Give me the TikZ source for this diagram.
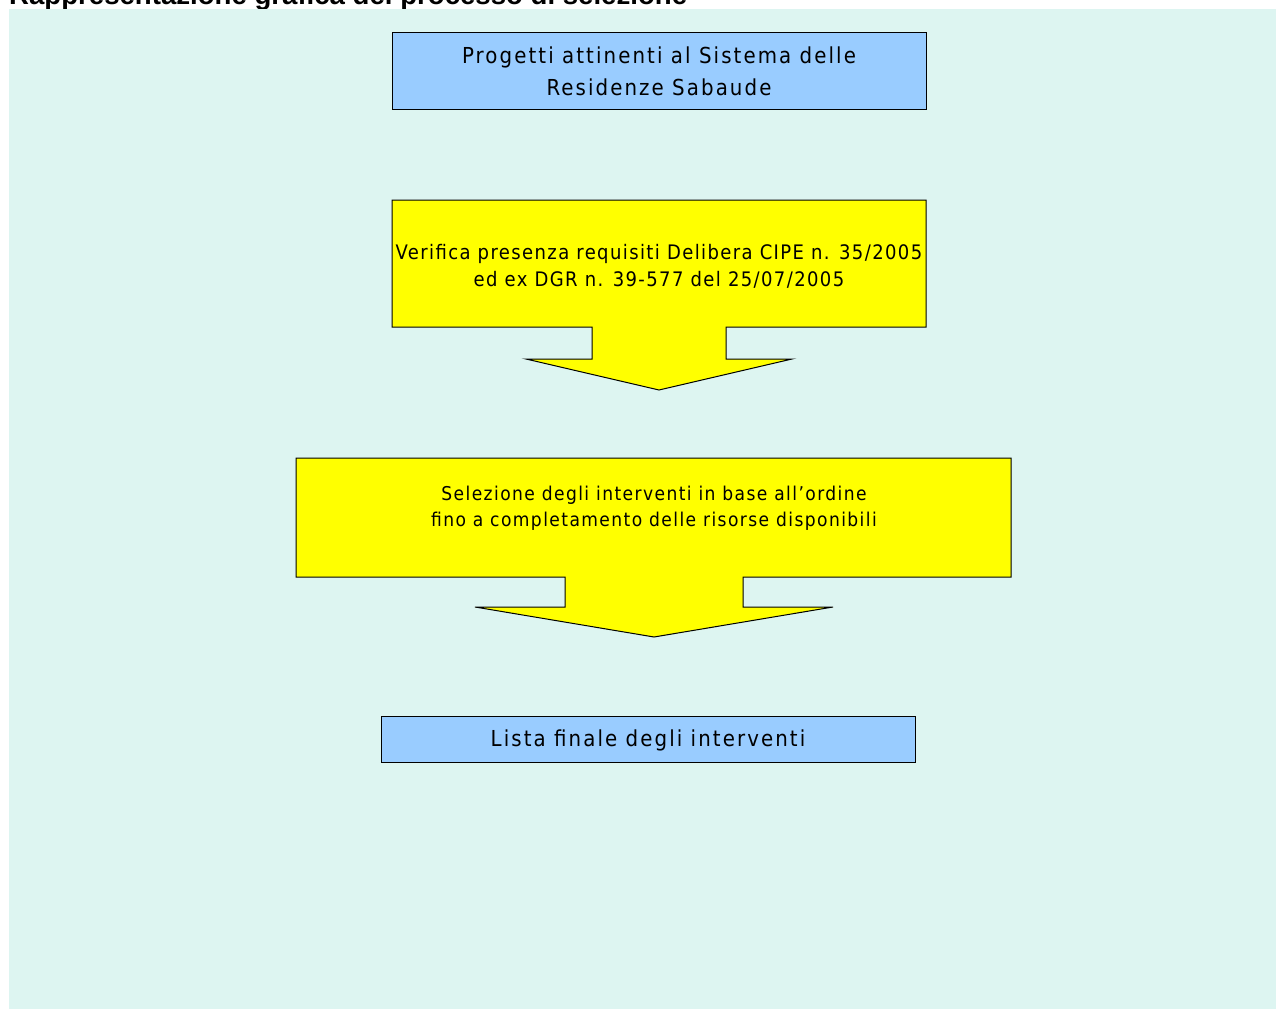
\documentclass[tikz,border=0pt]{standalone}
\usepackage{fontspec}
\setmainfont{Liberation Sans}
\newfontfamily\boxfont[LetterSpace=9.5]{DejaVu Sans Condensed}
\newfontfamily\callAfont[LetterSpace=7]{DejaVu Sans Condensed}
\newfontfamily\callBfont[LetterSpace=7.5]{DejaVu Sans Condensed}
\definecolor{bgc}{RGB}{221,245,241}
\definecolor{boxblue}{RGB}{153,204,255}
\definecolor{callyellow}{RGB}{255,255,0}
\tikzset{
  bluebox/.style={draw=black, fill=boxblue, line width=1pt, inner sep=0pt,
    minimum width=534pt},
  boxtext/.style={inner sep=0pt, align=center, font={\boxfont\fontsize{22}{32}\selectfont}},
  callout/.style={draw=black, fill=callyellow, line width=1pt, line join=miter},
  calltextA/.style={inner sep=0pt, align=center, font={\callAfont\fontsize{20}{27}\selectfont}},
  calltextB/.style={inner sep=0pt, align=center, font={\callBfont\fontsize{19}{26}\selectfont}},
}
\begin{document}
\begin{tikzpicture}[x=1pt,y=-1pt]
\useasboundingbox (0,0) rectangle (1276,1009);
\clip (0,0) rectangle (1276,1009);
\fill[white] (0,0) rectangle (1276,1009);
\node[anchor=base west, inner sep=0pt, font={\fontsize{27.6}{30}\selectfont\bfseries}] (title) at (9,4.5) {Rappresentazione grafica del processo di selezione};
\fill[bgc] (9,9) rectangle (1276,1009);

% top box
\node[bluebox, minimum height=77pt] (b1) at (659,70.5) {};
\node[boxtext] (b1t) at (659,71.5) {Progetti attinenti al Sistema delle\\Residenze Sabaude};

% callout 1
\draw[callout] (392,200) -- (926,200) -- (926,327) -- (726,327) -- (726,359) -- (792,359)
  -- (659,390) -- (526,359) -- (592,359) -- (592,327) -- (392,327) -- cycle;
\node[calltextA] (c1) at (659,266.5) {Verifica presenza requisiti Delibera CIPE n. 35/2005\\ed ex DGR n. 39-577 del 25/07/2005};

% callout 2
\draw[callout] (296,458) -- (1011,458) -- (1011,577) -- (743,577) -- (743,607) -- (833,607)
  -- (654,637) -- (475,607) -- (565,607) -- (565,577) -- (296,577) -- cycle;
\node[calltextB] (c2) at (654,508) {Selezione degli interventi in base all’ordine\\fino a completamento delle risorse disponibili};

% final box
\node[bluebox, minimum height=46pt] (b3) at (648,739) {};
\node[boxtext] (b3t) at (648,740.5) {Lista finale degli interventi};
\end{tikzpicture}
\end{document}
